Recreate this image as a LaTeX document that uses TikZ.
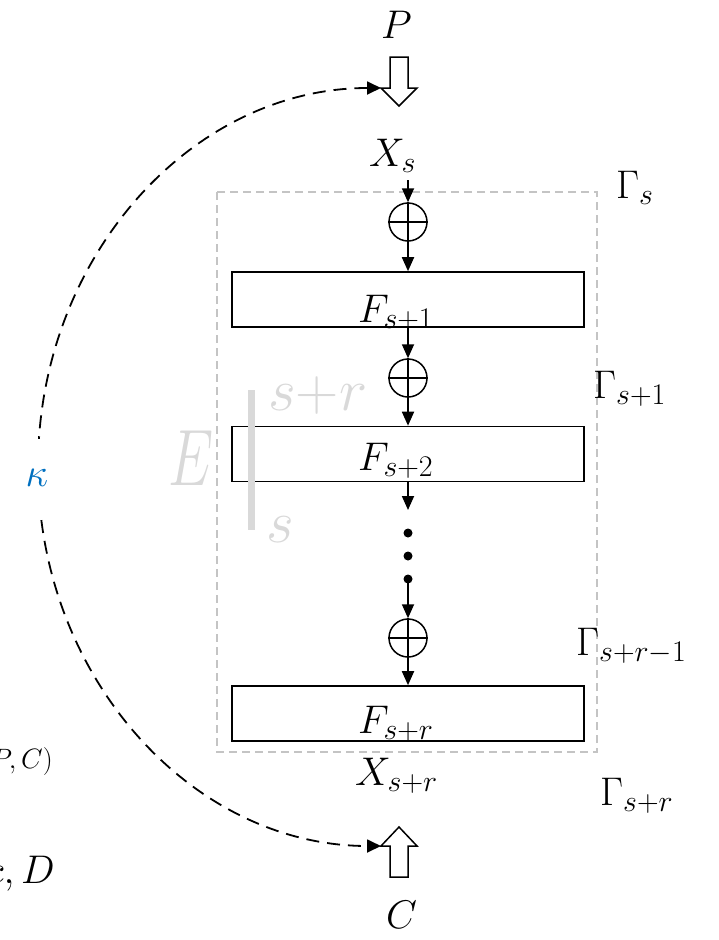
\RequirePackage{fix-cm}
\documentclass[tikz,border=0pt]{standalone}
\usetikzlibrary{arrows.meta}
\DeclareMathSizes{40}{40}{30}{22}
\DeclareMathSizes{28}{28}{21}{16}
\definecolor{kblue}{RGB}{0,112,192}
\definecolor{rectgray}{RGB}{196,196,196}
\definecolor{egray}{RGB}{217,217,217}
\begin{document}
\begin{tikzpicture}[x=1pt,y=-1pt,
  lab/.style={font=\fontsize{40}{46}\selectfont, inner sep=0pt, anchor=base west},
  fbox/.style={draw, line width=1.6pt, minimum width=352pt, minimum height=55pt, inner sep=0pt},
  xorc/.style={draw, circle, line width=1.5pt, minimum size=38pt, inner sep=0pt},
  dotn/.style={circle, fill, minimum size=9pt, inner sep=0pt},
  flow/.style={line width=1.8pt, -{Triangle[length=14pt,width=12pt]}},
  hollow/.style={line width=1.5pt, fill=white, line join=miter},
  ghost/.style={text=egray, inner sep=0pt, anchor=base west}
]
\useasboundingbox (0,0) rectangle (718,940);
\clip (0,0) rectangle (718,940);

% dashed frame
\draw[rectgray, line width=2pt, dash pattern=on 8pt off 5pt] (217,192) rectangle (597,752);

% boxes
\node[fbox] (f1) at (408,299.5) {};
\node[fbox] (f2) at (408,454) {};
\node[fbox] (f3) at (408,713.5) {};
\node[lab] (t1) at (358,322) {$F_{s+1}$};
\node[lab] (t2) at (358,470) {$F_{s+2}$};
\node[lab] (t3) at (358,733) {$F_{s+r}$};

% xor circles
\node[xorc] (c1) at (408,222) {};
\node[xorc] (c2) at (408,378) {};
\node[xorc] (c3) at (408,638) {};
\foreach \c in {c1,c2,c3}{
  \draw[line width=1.5pt] (\c.north) -- (\c.south) (\c.west) -- (\c.east);
}

% dots
\node[dotn] (d1) at (408,533) {};
\node[dotn] (d2) at (408,556) {};
\node[dotn] (d3) at (408,579) {};

% labels
\node[lab] (p) at (381,38) {$P$};
\node[lab] (xs) at (369,166) {$X_s$};
\node[lab] (xsr) at (355,785) {$X_{s+r}$};
\node[lab] (cc) at (386,928) {$C$};
\node[lab] (g0) at (616,198) {$\Gamma_s$};
\node[lab] (g1) at (593,398) {$\Gamma_{s+1}$};
\node[lab] (g2) at (576,655) {$\Gamma_{s+r-1}$};
\node[lab] (g3) at (600,805) {$\Gamma_{s+r}$};

% flow
\coordinate (xsout) at (408,180);
\coordinate (dend) at (408,510);
\draw[flow] (xsout) -- (c1.north);
\draw[flow] (c1.south) -- (f1.north);
\draw[flow] (f1.south) -- (c2.north);
\draw[flow] (c2.south) -- (f2.north);
\draw[flow] (f2.south) -- (dend);
\draw[flow] (d3.center) -- (c3.north);
\draw[flow] (c3.south) -- (f3.north);

% hollow arrows
\draw[hollow] (390,57) -- (408,57) -- (408,88) -- (417,88) -- (399,106) -- (381,88) -- (390,88) -- cycle;
\draw[hollow] (390,877) -- (408,877) -- (408,846) -- (417,846) -- (399,827) -- (381,846) -- (390,846) -- cycle;

% E restriction
\node[ghost, font=\fontsize{80}{90}\selectfont, xscale=0.72] (ee) at (168,485) {$E$};
\coordinate (bartop) at (251.5,390);
\coordinate (barbot) at (251.5,530);
\draw[egray, line width=6.5pt] (bartop) -- (barbot);
\node[ghost, font=\fontsize{60}{70}\selectfont] (sr) at (268,410) {$s{+}r$};
\node[ghost, font=\fontsize{60}{70}\selectfont] (sl) at (266,542) {$s$};

% kappa arc
\coordinate (atop) at (381,88);
\coordinate (abot) at (381,846);
\draw[line width=1.8pt, dash pattern=on 13pt off 8pt,
  {Triangle[length=14pt,width=13pt]}-{Triangle[length=14pt,width=13pt]}]
  (atop) arc[start angle=90, end angle=270, x radius=343pt, y radius=379pt];
\node[fill=white, inner sep=0pt, minimum height=78pt, minimum width=30pt,
  text=kblue, font=\fontsize{40}{46}\selectfont] (kap) at (37,478) {$\kappa$};

% cut-off texts at the left edge
\node[font=\fontsize{28}{32}\selectfont, inner sep=0pt, anchor=base east] (pc) at (53,768) {$(P,C)$};
\node[font=\fontsize{40}{46}\selectfont, inner sep=0pt, anchor=base east] (cd) at (55,883) {$c, D$};
\end{tikzpicture}
\end{document}
